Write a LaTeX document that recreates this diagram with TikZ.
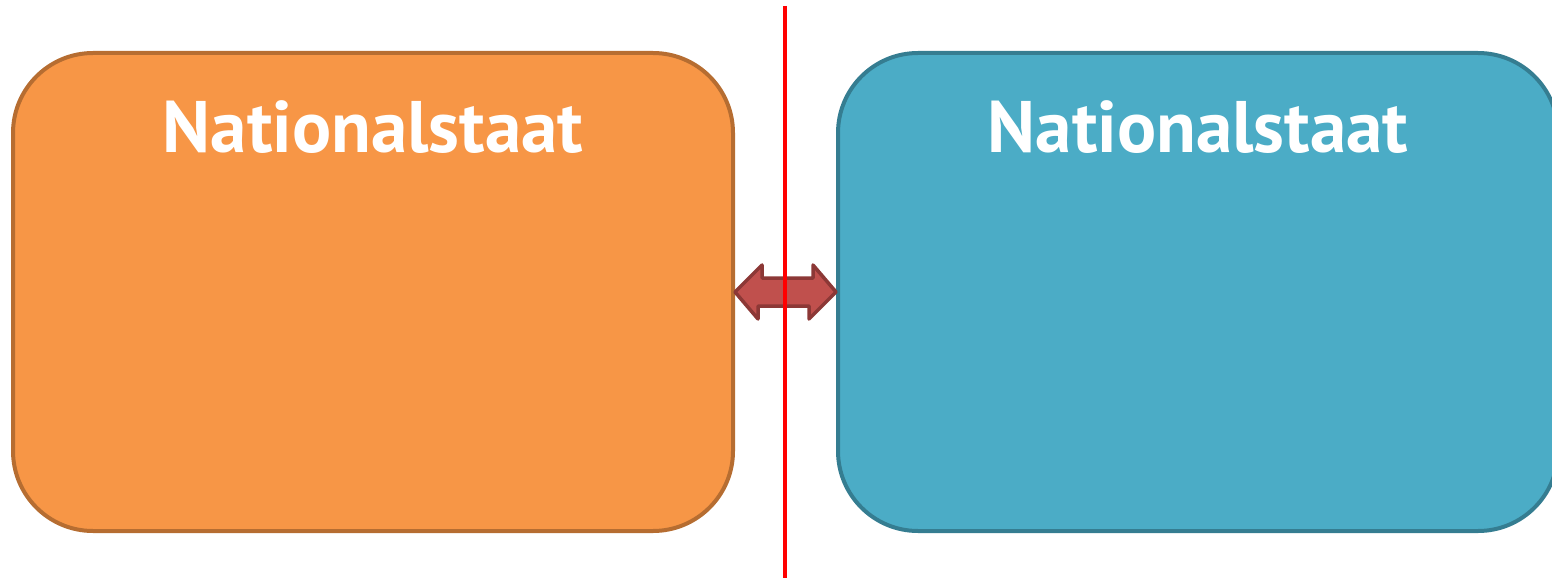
\documentclass[tikz,border=0pt]{standalone}
\usepackage{fontspec}
\setmainfont{PT Sans}
\usetikzlibrary{positioning}

\definecolor{orangefill}{HTML}{F79646}
\definecolor{orangeline}{HTML}{B66D31}
\definecolor{bluefill}{HTML}{4BACC6}
\definecolor{blueline}{HTML}{357D91}
\definecolor{arrowfill}{HTML}{C0504D}
\definecolor{arrowline}{HTML}{8C3836}

\begin{document}
\begin{tikzpicture}[x=1pt,y=-1pt,
    staat/.style={rounded corners=80pt,line width=4pt,minimum width=720pt,minimum height=478pt,inner sep=0pt},
    titel/.style={text=white,font=\bfseries\fontsize{73}{73}\selectfont,inner sep=0pt,anchor=base}]
  \useasboundingbox (0,0) rectangle (1552,583);

  \node[staat,draw=orangeline,fill=orangefill] (links) at (373,292) {};
  \node[staat,draw=blueline,fill=bluefill]     (rechts) at (1198,292) {};

  \node[titel] (tlinks) at (373,153) {Nationalstaat};
  \node[titel] (trechts) at (1198,153) {Nationalstaat};

  % Grenze
  \coordinate (mitte) at (785,292);
  \draw[draw=arrowline,fill=arrowfill,line width=3.5pt,line join=round]
    (links.east) -- ++(27,-27) -- ++(0,13) -- ++(51,0) -- ++(0,-13)
    -- (rechts.west) -- ++(-27,27) -- ++(0,-13) -- ++(-51,0) -- ++(0,13) -- cycle;
  \coordinate (oben) at (785,6);
  \coordinate (unten) at (785,578);
  \draw[red,line width=4pt] (oben) -- (unten);
\end{tikzpicture}
\end{document}
